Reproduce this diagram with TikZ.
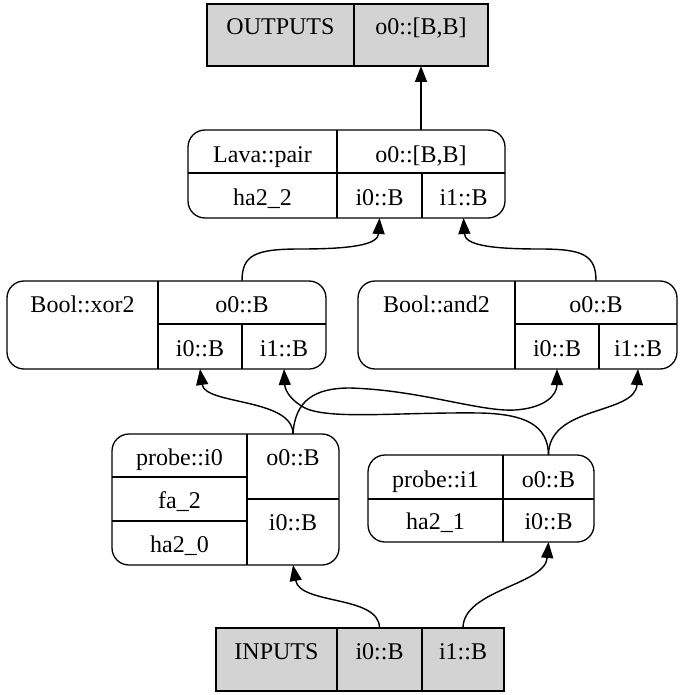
\documentclass[tikz,border=0pt]{standalone}
\usepackage{fontspec}
\setmainfont{Liberation Serif}
\usetikzlibrary{arrows.meta}
\definecolor{boxgray}{RGB}{211,211,211}
\tikzset{
  rec/.style={draw, line width=1.3pt, inner sep=0pt, outer sep=0pt, anchor=north west},
  roundrec/.style={rec, rounded corners=17pt},
  grayrec/.style={rec, fill=boxgray},
  divider/.style={line width=1.3pt},
  lbl/.style={anchor=base, inner sep=0pt, font=\fontsize{24}{28}\selectfont},
  edge/.style={line width=1.4pt, -{Triangle[length=16pt,width=12pt]}}
}
\begin{document}
\begin{tikzpicture}[x=1pt,y=-1pt]
\useasboundingbox (0,0) rectangle (679,695);
% boxes
\node[grayrec, minimum width=281pt, minimum height=62pt] (out) at (207,4) {};
\node[roundrec, minimum width=317pt, minimum height=88pt] (lava) at (188,130) {};
\node[roundrec, minimum width=319pt, minimum height=88pt] (xor) at (7,281) {};
\node[roundrec, minimum width=319pt, minimum height=88pt] (and) at (358,281) {};
\node[roundrec, minimum width=227pt, minimum height=131pt] (pi0) at (112,434) {};
\node[roundrec, minimum width=226pt, minimum height=87pt] (pi1) at (368,455) {};
\node[grayrec, minimum width=288pt, minimum height=63pt] (inp) at (216,628) {};
% dividers
\draw[divider] (354,4) -- (354,66);
\draw[divider] (337,130) -- (337,218) (188,173) -- (505,173) (422,173) -- (422,218);
\draw[divider] (158,281) -- (158,369) (158,324) -- (326,324) (242,324) -- (242,369);
\draw[divider] (515,281) -- (515,369) (515,324) -- (677,324) (599,324) -- (599,369);
\draw[divider] (247,434) -- (247,565) (112,477) -- (247,477) (112,521) -- (247,521) (247,499) -- (339,499);
\draw[divider] (503,455) -- (503,542) (368,499) -- (594,499);
\draw[divider] (337,628) -- (337,691) (422,628) -- (422,691);
% labels
\node[lbl] (tOut) at (280.5,35) {OUTPUTS};
\node[lbl] (tOutO) at (421,35) {o0::[B,B]};
\node[lbl] (tLava) at (262.5,162) {Lava::pair};
\node[lbl] (tLavaO) at (421,162) {o0::[B,B]};
\node[lbl] (tLavaN) at (262.5,205) {ha2\_2};
\node[lbl] (tLavaI0) at (379.5,205) {i0::B};
\node[lbl] (tLavaI1) at (463.5,205) {i1::B};
\node[lbl] (tXor) at (82.5,312) {Bool::xor2};
\node[lbl] (tXorO) at (242,312) {o0::B};
\node[lbl] (tXorI0) at (200,356) {i0::B};
\node[lbl] (tXorI1) at (284,356) {i1::B};
\node[lbl] (tAnd) at (436.5,312) {Bool::and2};
\node[lbl] (tAndO) at (596,312) {o0::B};
\node[lbl] (tAndI0) at (557,356) {i0::B};
\node[lbl] (tAndI1) at (638,356) {i1::B};
\node[lbl] (tP0) at (179.5,465) {probe::i0};
\node[lbl] (tP0b) at (179.5,508.5) {fa\_2};
\node[lbl] (tP0c) at (179.5,552) {ha2\_0};
\node[lbl] (tP0O) at (293,465) {o0::B};
\node[lbl] (tP0I) at (293,530) {i0::B};
\node[lbl] (tP1) at (435.5,487) {probe::i1};
\node[lbl] (tP1b) at (435.5,529) {ha2\_1};
\node[lbl] (tP1O) at (548.5,487) {o0::B};
\node[lbl] (tP1I) at (548.5,529) {i0::B};
\node[lbl] (tIn) at (276.5,659) {INPUTS};
\node[lbl] (tInI0) at (379.5,659) {i0::B};
\node[lbl] (tInI1) at (463,659) {i1::B};
% ports
\coordinate (outIn) at (421,66);
\coordinate (lavaOut) at (421,130);
\coordinate (lavaI0) at (379.5,218);
\coordinate (lavaI1) at (463.5,218);
\coordinate (xorOut) at (242,281);
\coordinate (xorI0) at (200,369);
\coordinate (xorI1) at (284,369);
\coordinate (andOut) at (596,281);
\coordinate (andI0) at (557,369);
\coordinate (andI1) at (638,369);
\coordinate (p0Out) at (293,434);
\coordinate (p0In) at (293,565);
\coordinate (p1Out) at (548.5,455);
\coordinate (p1In) at (548.5,542);
\coordinate (inI0) at (379.5,628);
\coordinate (inI1) at (463,628);
% edges
\draw[edge] (lavaOut) -- (outIn);
\draw[edge] (xorOut) .. controls (242,255) and (255,249) .. (300,249) .. controls (350,249) and (378,245) .. (lavaI0);
\draw[edge] (andOut) .. controls (596,255) and (583,249) .. (540,249) .. controls (490,249) and (465,245) .. (lavaI1);
\draw[edge] (p0Out) .. controls (293,398) and (205,405) .. (xorI0);
\draw[edge] (p0Out) .. controls (295,400) and (315,388) .. (350,388) .. controls (420,390) and (480,412) .. (515,410) .. controls (545,408) and (557,395) .. (andI0);
\draw[edge] (p1Out) .. controls (548,425) and (525,414) .. (480,413) .. controls (400,412) and (330,420) .. (305,408) .. controls (290,400) and (285,390) .. (xorI1);
\draw[edge] (p1Out) .. controls (548.5,405) and (635,415) .. (andI1);
\draw[edge] (inI0) .. controls (379.5,595) and (300,605) .. (p0In);
\draw[edge] (inI1) .. controls (463,590) and (545,585) .. (p1In);
\end{tikzpicture}
\end{document}
